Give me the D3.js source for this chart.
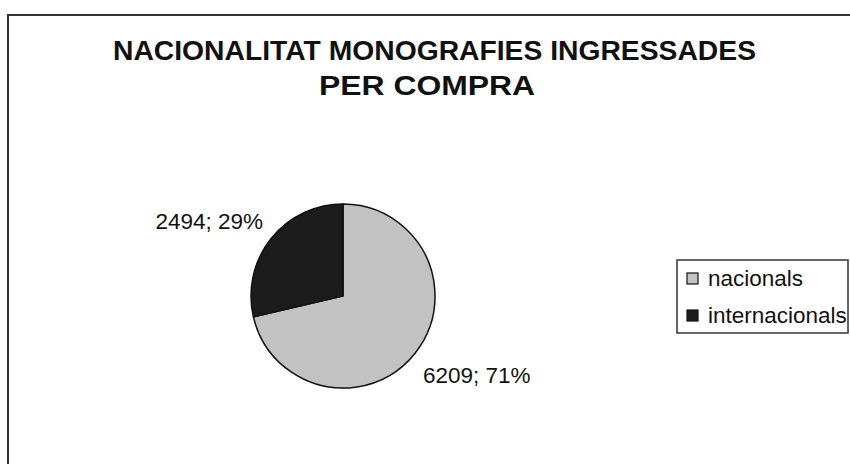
<!DOCTYPE html>
<html>
<head>
<meta charset="utf-8">
<script src="https://cdn.jsdelivr.net/npm/d3@7"></script>
<style>
  body { margin: 0; background: #fff; }
  text { font-family: "Liberation Sans", Arial, sans-serif; fill: #111; }
</style>
</head>
<body>
<div id="chart"></div>
<script>
var titleLines = ["NACIONALITAT MONOGRAFIES INGRESSADES", "PER COMPRA"];
var categories = ["nacionals", "internacionals"];
var values = [6209, 2494];
var percents = [71, 29];
var colors = ["#c2c2c2", "#1c1c1c"];

var width = 850, height = 464;

var svg = d3.select("#chart")
  .append("svg")
  .attr("width", width)
  .attr("height", height);

// chart frame (right and bottom run off the picture)
svg.append("path")
  .attr("d", "M8,470 L8,15 L860,15")
  .attr("fill", "none")
  .attr("stroke", "#333")
  .attr("stroke-width", 2);

// title
svg.append("text")
  .attr("x", 434.5).attr("y", 60)
  .attr("text-anchor", "middle")
  .style("font-size", "27px").style("font-weight", "bold")
  .attr("textLength", 643).attr("lengthAdjust", "spacingAndGlyphs")
  .text(titleLines[0]);
svg.append("text")
  .attr("x", 427).attr("y", 95)
  .attr("text-anchor", "middle")
  .style("font-size", "27px").style("font-weight", "bold")
  .attr("textLength", 216).attr("lengthAdjust", "spacingAndGlyphs")
  .text(titleLines[1]);

// pie
var cx = 343, cy = 296, radius = 92;

var pie = d3.pie().sort(null).value(function(d){ return d; });
var arcs = pie(values);

var arc = d3.arc().innerRadius(0).outerRadius(radius);
var labelArc = d3.arc().innerRadius(radius + 10).outerRadius(radius + 10);

var g = svg.append("g").attr("transform", "translate(" + cx + "," + cy + ")");

g.selectAll("path")
  .data(arcs)
  .enter()
  .append("path")
    .attr("d", arc)
    .attr("fill", function(d, i){ return colors[i]; })
    .attr("stroke", "#111")
    .attr("stroke-width", 1.5);

g.selectAll("text.label")
  .data(arcs)
  .enter()
  .append("text")
    .attr("class", "label")
    .attr("x", function(d){ return labelArc.centroid(d)[0]; })
    .attr("y", function(d){ return labelArc.centroid(d)[1]; })
    .attr("dy", function(d){ return labelArc.centroid(d)[1] > 0 ? "1.05em" : "-0.15em"; })
    .attr("text-anchor", function(d){ return labelArc.centroid(d)[0] > 0 ? "start" : "end"; })
    .style("font-size", "22.5px")
    .text(function(d, i){ return values[i] + "; " + percents[i] + "%"; });

// legend
var legend = svg.append("g").attr("transform", "translate(677,260)");
legend.append("rect")
  .attr("width", 171).attr("height", 73)
  .attr("fill", "#fff")
  .attr("stroke", "#333")
  .attr("stroke-width", 1.5);

var items = legend.selectAll("g.item")
  .data(categories)
  .enter()
  .append("g")
    .attr("class", "item")
    .attr("transform", function(d, i){ return "translate(0," + (i * 37) + ")"; });

items.append("rect")
  .attr("x", 10).attr("y", 13)
  .attr("width", 11).attr("height", 11)
  .attr("fill", function(d, i){ return colors[i]; })
  .attr("stroke", "#111")
  .attr("stroke-width", 1.2);

items.append("text")
  .attr("x", 31).attr("y", 26)
  .style("font-size", "22.5px")
  .text(function(d){ return d; });
</script>
</body>
</html>
